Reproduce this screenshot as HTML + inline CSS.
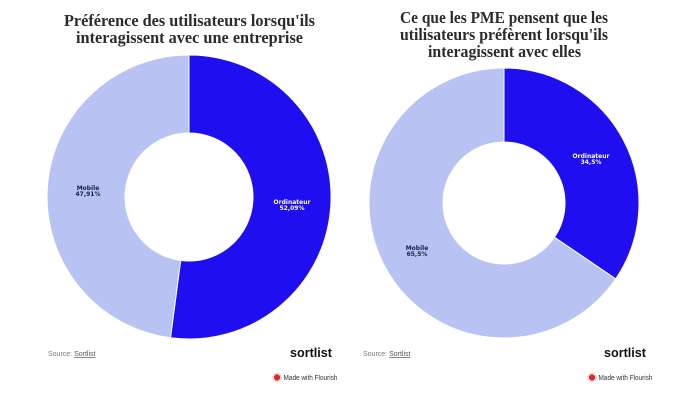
<!DOCTYPE html>
<html>
<head>
<meta charset="utf-8">
<style>
  html,body{margin:0;padding:0;background:#fff;}
  body{width:700px;height:400px;overflow:hidden;}
  svg{display:block;}
</style>
</head>
<body>
<svg width="700" height="400" viewBox="0 0 700 400" xmlns="http://www.w3.org/2000/svg">
  <rect width="700" height="400" fill="#ffffff"/>

  <!-- Left title -->
  <g font-family="'Liberation Serif', serif" font-weight="bold" fill="#2b2b2b" font-size="17">
    <text x="64" y="26" textLength="251" lengthAdjust="spacingAndGlyphs">Préférence des utilisateurs lorsqu'ils</text>
    <text x="76" y="43" textLength="227" lengthAdjust="spacingAndGlyphs">interagissent avec une entreprise</text>
  </g>

  <!-- Right title -->
  <g font-family="'Liberation Serif', serif" font-weight="bold" fill="#2b2b2b" font-size="17">
    <text x="400" y="23" textLength="208" lengthAdjust="spacingAndGlyphs">Ce que les PME pensent que les</text>
    <text x="400" y="40" textLength="208" lengthAdjust="spacingAndGlyphs">utilisateurs préfèrent lorsqu'ils</text>
    <text x="428" y="57" textLength="153" lengthAdjust="spacingAndGlyphs">interagissent avec elles</text>
  </g>

  <!-- Left donut -->
  <g stroke="#ffffff" stroke-width="1">
    <path d="M189,55 A142,142 0 1 1 170.47,337.78 L180.65,260.45 A64,64 0 1 0 189,133 Z" fill="#1f0ff0"/>
    <path d="M170.47,337.78 A142,142 0 0 1 189,55 L189,133 A64,64 0 0 0 180.65,260.45 Z" fill="#b8c3f4"/>
  </g>

  <!-- Right donut -->
  <g stroke="#ffffff" stroke-width="1">
    <path d="M504,68 A135,135 0 0 1 615.66,278.88 L554.45,237.29 A61,61 0 0 0 504,142 Z" fill="#1f0ff0"/>
    <path d="M615.66,278.88 A135,135 0 1 1 504,68 L504,142 A61,61 0 1 0 554.45,237.29 Z" fill="#b8c3f4"/>
  </g>

  <!-- Slice labels -->
  <g font-family="'DejaVu Sans', sans-serif" font-weight="bold" font-size="6" text-anchor="middle">
    <text x="292" y="204" fill="#ffffff">Ordinateur</text>
    <text x="292" y="210" fill="#ffffff">52,09%</text>
    <text x="88" y="190" fill="#1c1c48">Mobile</text>
    <text x="88" y="196" fill="#1c1c48">47,91%</text>

    <text x="591" y="158" fill="#ffffff">Ordinateur</text>
    <text x="591" y="164" fill="#ffffff">34,5%</text>
    <text x="417" y="250" fill="#1c1c48">Mobile</text>
    <text x="417" y="256" fill="#1c1c48">65,5%</text>
  </g>

  <!-- Footer left -->
  <g font-family="'Liberation Sans', sans-serif">
    <text x="48" y="356" font-size="7" fill="#777777">Source: <tspan text-decoration="underline" fill="#555555">Sortlist</tspan></text>
    <text x="290" y="357" font-size="13" font-weight="bold" fill="#111111" textLength="42" lengthAdjust="spacingAndGlyphs">sortlist</text>
    <circle cx="277" cy="377.5" r="3.2" fill="#d42a2a"/>
    <circle cx="277" cy="377.5" r="4.3" fill="none" stroke="#e88" stroke-width="0.8" stroke-dasharray="1 1"/>
    <text x="283.5" y="380" font-size="7" fill="#333333" textLength="54" lengthAdjust="spacingAndGlyphs">Made with Flourish</text>
  </g>

  <!-- Footer right -->
  <g font-family="'Liberation Sans', sans-serif">
    <text x="363" y="356" font-size="7" fill="#777777">Source: <tspan text-decoration="underline" fill="#555555">Sortlist</tspan></text>
    <text x="604" y="357" font-size="13" font-weight="bold" fill="#111111" textLength="42" lengthAdjust="spacingAndGlyphs">sortlist</text>
    <circle cx="592" cy="377.5" r="3.2" fill="#d42a2a"/>
    <circle cx="592" cy="377.5" r="4.3" fill="none" stroke="#e88" stroke-width="0.8" stroke-dasharray="1 1"/>
    <text x="598.5" y="380" font-size="7" fill="#333333" textLength="54" lengthAdjust="spacingAndGlyphs">Made with Flourish</text>
  </g>
</svg>
</body>
</html>
